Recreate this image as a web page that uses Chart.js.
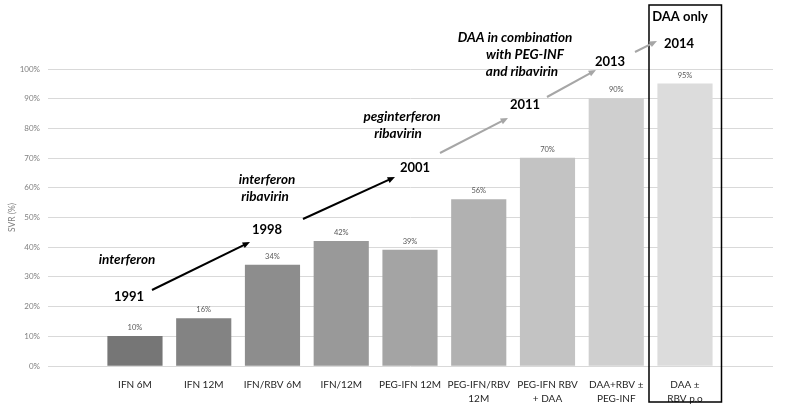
<!DOCTYPE html>
<html>
<head>
<meta charset="utf-8">
<script src="https://cdn.jsdelivr.net/npm/chart.js@4.4.0/dist/chart.umd.min.js"></script>
<style>
  html, body { margin: 0; padding: 0; background: #fff; }
  #wrap { width: 785px; height: 408px; position: relative; }
</style>
</head>
<body>
<div id="wrap"><canvas id="svrChart"></canvas></div>
<script>
// chart data
const categories = [
    'IFN 6M', 'IFN 12M', 'IFN/RBV 6M', 'IFN/12M', 'PEG-IFN 12M',
    ['PEG-IFN/RBV', '12M'], ['PEG-IFN RBV', '+ DAA'], ['DAA+RBV \u00b1', 'PEG-INF'], ['DAA \u00b1', 'RBV p.o']
];
const svrValues = [10, 16, 34, 42, 39, 56, 70, 90, 95];
const barColors = ['#767676', '#838383', '#8d8d8d', '#999999', '#a4a4a4', '#b1b1b1', '#c3c3c3', '#cfcfcf', '#dcdcdc'];
const yTicks = [0, 10, 20, 30, 40, 50, 60, 70, 80, 90, 100];

const FONT = 'Lato, "Open Sans", sans-serif';

// text and arrows over the chart
const annotations = {
    texts: [
        { t: 'interferon', x: 127, y: 260, italic: true },
        { t: '1991', x: 129, y: 297 },
        { t: 'interferon', x: 267, y: 180, italic: true },
        { t: 'ribavirin', x: 265, y: 197, italic: true },
        { t: '1998', x: 267, y: 230 },
        { t: 'peginterferon', x: 402, y: 117, italic: true },
        { t: 'ribavirin', x: 398, y: 134, italic: true },
        { t: '2001', x: 415, y: 168 },
        { t: '2011', x: 525, y: 105 },
        { t: 'DAA in combination', x: 515, y: 38, italic: true },
        { t: 'with PEG-INF', x: 525, y: 55, italic: true },
        { t: 'and ribavirin', x: 522, y: 72, italic: true },
        { t: '2013', x: 610, y: 62 },
        { t: '2014', x: 679, y: 44 },
        { t: 'DAA only', x: 680, y: 17 }
    ],
    arrows: [
        { x1: 152, y1: 290, x2: 250, y2: 242, color: '#000000' },
        { x1: 303, y1: 219, x2: 395, y2: 177, color: '#000000' },
        { x1: 440, y1: 153, x2: 508, y2: 118, color: '#a6a6a6' },
        { x1: 547, y1: 97, x2: 596, y2: 70, color: '#a6a6a6' },
        { x1: 635, y1: 52, x2: 657, y2: 41, color: '#a6a6a6' }
    ]
};

function drawArrow(ctx, a) {
    const ang = Math.atan2(a.y2 - a.y1, a.x2 - a.x1);
    const head = 8;
    ctx.strokeStyle = a.color;
    ctx.fillStyle = a.color;
    ctx.lineWidth = 2;
    ctx.beginPath();
    ctx.moveTo(a.x1, a.y1);
    ctx.lineTo(a.x2 - Math.cos(ang) * head * 0.8, a.y2 - Math.sin(ang) * head * 0.8);
    ctx.stroke();
    ctx.beginPath();
    ctx.moveTo(a.x2, a.y2);
    ctx.lineTo(a.x2 - head * Math.cos(ang - 0.4), a.y2 - head * Math.sin(ang - 0.4));
    ctx.lineTo(a.x2 - head * Math.cos(ang + 0.4), a.y2 - head * Math.sin(ang + 0.4));
    ctx.closePath();
    ctx.fill();
}

const overlayPlugin = {
    id: 'overlay',
    afterDatasetsDraw(chart) {
        const ctx = chart.ctx;
        ctx.save();
        // value labels above bars
        const meta = chart.getDatasetMeta(0);
        ctx.font = '7.5px ' + FONT;
        ctx.fillStyle = '#595959';
        ctx.textAlign = 'center';
        ctx.textBaseline = 'bottom';
        meta.data.forEach((bar, i) => {
            ctx.fillText(svrValues[i] + '%', bar.x, bar.y - 5);
        });
        // box around last bar
        const last = meta.data[meta.data.length - 1];
        ctx.strokeStyle = '#000';
        ctx.lineWidth = 1.5;
        ctx.strokeRect(last.x - 36, 5, 72.5, 397);
        // arrows
        annotations.arrows.forEach(a => drawArrow(ctx, a));
        // texts
        ctx.fillStyle = '#000';
        ctx.textBaseline = 'middle';
        annotations.texts.forEach(tx => {
            ctx.font = tx.italic ? 'italic bold 13.5px ' + FONT : 'bold 13px ' + FONT;
            ctx.fillText(tx.t, tx.x, tx.y);
        });
        ctx.restore();
    }
};

const ctx = document.getElementById('svrChart').getContext('2d');
new Chart(ctx, {
    type: 'bar',
    data: {
        datasets: [{
            data: svrValues.map((v, i) => ({ x: i, y: v })),
            backgroundColor: barColors,
            barThickness: 54.5
        }]
    },
    options: {
        responsive: true,
        maintainAspectRatio: false,
        animation: false,
        layout: { padding: { top: 69, right: 12, left: 0, bottom: 0 } },
        plugins: { legend: { display: false }, tooltip: { enabled: false } },
        scales: {
            x: {
                type: 'linear',
                offset: false,
                min: -1.265,
                max: 9.28,
                grid: { display: false },
                border: { display: false },
                afterBuildTicks(scale) {
                    scale.ticks = categories.map((c, i) => ({ value: i }));
                },
                afterFit(scale) { scale.height = 42; },
                ticks: {
                    autoSkip: false,
                    maxRotation: 0,
                    padding: 4,
                    color: '#262626',
                    font: { family: FONT, size: 10, lineHeight: 1.4 },
                    callback: (v) => categories[v]
                }
            },
            y: {
                min: 0,
                max: 100,
                afterBuildTicks(scale) {
                    scale.ticks = yTicks.map(v => ({ value: v }));
                },
                afterFit(scale) { scale.width = 48; },
                grid: { color: '#d9d9d9', drawTicks: false },
                border: { display: false },
                title: {
                    display: true,
                    text: 'SVR (%)',
                    color: '#808080',
                    font: { family: FONT, size: 8.5 },
                    padding: { top: 7, bottom: 0 }
                },
                ticks: {
                    padding: 8,
                    color: '#808080',
                    font: { family: FONT, size: 8 },
                    callback: (v) => v + '%'
                }
            }
        }
    },
    plugins: [overlayPlugin]
});
</script>
</body>
</html>
